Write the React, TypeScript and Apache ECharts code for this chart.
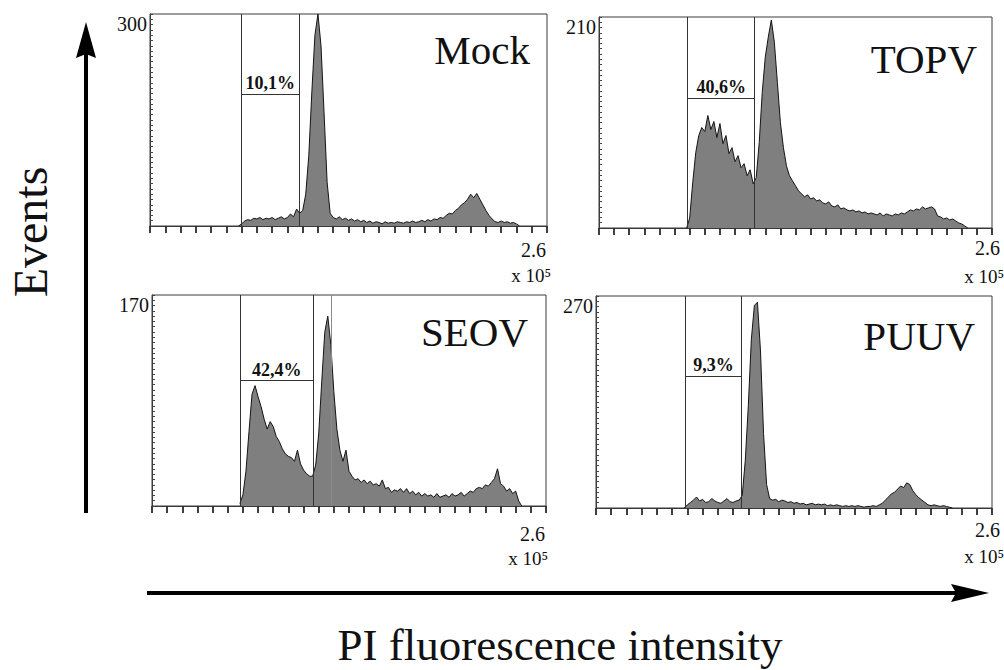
import React, { useEffect, useRef } from 'react';
import * as echarts from 'echarts';

// ---------- data ----------
const binStart = 0.58;
const binStep = 0.02;

const mockCounts = [0, 3, 7, 9, 8, 11, 10, 12, 9, 11, 10, 12, 9, 11, 13, 10, 12, 17, 13, 24, 18, 22, 45, 100, 190, 270, 300, 255, 160, 62, 18, 12, 10, 13, 9, 11, 8, 10, 7, 9, 6, 8, 5, 7, 4, 6, 5, 3, 6, 4, 5, 4, 6, 5, 4, 6, 5, 7, 5, 6, 8, 6, 9, 7, 10, 9, 12, 11, 15, 18, 17, 22, 25, 30, 33, 38, 45, 40, 46, 38, 30, 22, 15, 10, 6, 5, 7, 5, 6, 4, 5, 3, 0];

const topvCounts = [0, 10, 45, 75, 92, 100, 96, 112, 98, 106, 90, 104, 84, 92, 74, 80, 66, 72, 60, 64, 52, 58, 44, 50, 85, 135, 170, 190, 207, 185, 145, 105, 80, 62, 52, 47, 42, 37, 34, 31, 33, 29, 30, 27, 28, 25, 24, 26, 22, 21, 23, 19, 20, 18, 17, 18, 16, 17, 15, 16, 14, 15, 14, 13, 15, 12, 14, 13, 12, 14, 13, 15, 14, 16, 18, 17, 19, 18, 21, 19, 20, 21, 19, 12, 11, 9, 10, 8, 9, 7, 5, 4, 2, 0];

const seovCounts = [2, 9, 28, 60, 90, 97, 88, 80, 70, 62, 68, 64, 56, 52, 46, 42, 40, 39, 36, 45, 34, 29, 26, 24, 24, 33, 58, 100, 140, 153, 130, 92, 62, 45, 36, 45, 28, 24, 21, 22, 19, 21, 18, 20, 17, 18, 16, 21, 14, 15, 11, 13, 12, 14, 11, 14, 10, 12, 9, 11, 8, 10, 8, 9, 7, 10, 7, 8, 9, 7, 10, 8, 9, 11, 8, 10, 12, 11, 14, 15, 14, 17, 16, 19, 22, 30, 18, 16, 12, 14, 10, 12, 4, 0];

const puuvCounts = [0, 4, 7, 10, 14, 9, 11, 7, 8, 12, 9, 7, 6, 9, 12, 8, 7, 9, 10, 16, 60, 130, 215, 258, 262, 200, 95, 30, 12, 10, 11, 8, 10, 9, 7, 8, 6, 7, 5, 6, 4, 5, 6, 4, 5, 4, 5, 3, 4, 3, 4, 3, 2, 3, 2, 3, 2, 3, 2, 1, 2, 2, 3, 2, 4, 6, 10, 14, 18, 20, 24, 28, 26, 32, 30, 22, 17, 13, 10, 7, 4, 3, 4, 3, 2, 3, 2, 1, 0];

const panelNames = ['Mock', 'TOPV', 'SEOV', 'PUUV'];
const panelCounts = [mockCounts, topvCounts, seovCounts, puuvCounts];
const yMaxValues = [300, 210, 170, 270];
const gatePercent = ['10,1%', '40,6%', '42,4%', '9,3%'];
const gateLeft = [0.596, 0.587, 0.581, 0.589];
const gateRight = [0.98, 1.03, 1.065, 0.954];
const gateLevel = [187, 129, 101, 168];
const seovMarker = 1.18;
const xMax = 2.6;
const xMaxLabel = '2.6';
const xUnitLabel = 'x 10⁵';
const yAxisTitle = 'Events';
const xAxisTitle = 'PI fluorescence intensity';

// ---------- layout ----------
const FONT = 'Liberation Serif';
const boxes = [
  { left: 150, top: 14, width: 397, height: 212 },
  { left: 599, top: 17, width: 393, height: 211 },
  { left: 152, top: 295, width: 394, height: 211 },
  { left: 596, top: 296, width: 396, height: 212 },
];
const titlePos = [
  { x: 530, y: 50 },
  { x: 977, y: 59 },
  { x: 528, y: 332 },
  { x: 975, y: 336 },
];
const unitPos = [
  { x1: 546, y1: 250, x2: 551, y2: 275 },
  { x1: 1000, y1: 248, x2: 1004, y2: 276 },
  { x1: 545, y1: 534, x2: 548, y2: 558 },
  { x1: 1000, y1: 530, x2: 1004, y2: 556 },
];

function buildOption() {
  const grid: any[] = [];
  const xAxis: any[] = [];
  const yAxis: any[] = [];
  const series: any[] = [];
  const graphic: any[] = [];

  panelNames.forEach((name, i) => {
    const b = boxes[i];
    const yMax = yMaxValues[i];
    grid.push({
      left: b.left,
      top: b.top,
      width: b.width,
      height: b.height,
      show: true,
      borderColor: '#3a3a3a',
      borderWidth: 1,
      backgroundColor: 'transparent',
    });
    xAxis.push({
      type: 'value',
      gridIndex: i,
      min: 0,
      max: xMax,
      interval: 0.1,
      axisLine: { show: true, lineStyle: { color: '#3a3a3a', width: 1 } },
      axisTick: { show: true, inside: false, length: 7, lineStyle: { color: '#2a2a2a', width: 1.8 } },
      axisLabel: { show: false },
      splitLine: { show: false },
    });
    yAxis.push({
      type: 'value',
      gridIndex: i,
      min: 0,
      max: yMax,
      interval: yMax / 40,
      axisLine: { show: true, lineStyle: { color: '#3a3a3a', width: 1 } },
      axisTick: { show: true, inside: true, length: 3, lineStyle: { color: '#444', width: 1 } },
      axisLabel: {
        show: true,
        formatter: (v: number) => (Math.abs(v - yMax) < 1e-6 ? String(yMax) : ''),
        fontSize: 20,
        fontFamily: FONT,
        color: '#111',
        margin: 3,
        verticalAlign: 'top',
      },
      splitLine: { show: false },
    });

    const markData: any[] = [
      [{ coord: [gateLeft[i], 0] }, { coord: [gateLeft[i], yMax] }],
      [{ coord: [gateRight[i], 0] }, { coord: [gateRight[i], yMax] }],
      [
        {
          coord: [gateLeft[i], gateLevel[i]],
          label: {
            show: true,
            position: 'insideMiddleTop',
            formatter: gatePercent[i],
            fontFamily: FONT,
            fontWeight: 'bold',
            fontSize: 18,
            color: '#111',
            distance: 2,
          },
        },
        { coord: [gateRight[i], gateLevel[i]] },
      ],
    ];
    if (name === 'SEOV') {
      markData.push([
        { coord: [seovMarker, 0], lineStyle: { color: '#8a8a8a', width: 1 } },
        { coord: [seovMarker, yMax] },
      ]);
    }

    series.push({
      type: 'line',
      name,
      xAxisIndex: i,
      yAxisIndex: i,
      data: panelCounts[i].map((c, j) => [binStart + j * binStep, c]),
      showSymbol: false,
      symbol: 'none',
      smooth: false,
      lineStyle: { color: '#141414', width: 1 },
      areaStyle: { color: '#7f7f7f', opacity: 1 },
      z: 2,
      markLine: {
        silent: true,
        symbol: 'none',
        label: { show: false },
        lineStyle: { color: '#333', width: 1, type: 'solid' },
        data: markData,
      },
    });

    const t = titlePos[i];
    graphic.push({
      type: 'text',
      x: t.x,
      y: t.y,
      style: {
        text: name,
        fontFamily: FONT,
        fontSize: 41,
        fill: '#111',
        align: 'right',
        verticalAlign: 'middle',
      },
    });
    const u = unitPos[i];
    graphic.push({
      type: 'text',
      x: u.x1,
      y: u.y1,
      style: { text: xMaxLabel, fontFamily: FONT, fontSize: 20, fill: '#111', align: 'right', verticalAlign: 'middle' },
    });
    graphic.push({
      type: 'text',
      x: u.x2,
      y: u.y2,
      style: { text: xUnitLabel, fontFamily: FONT, fontSize: 19, fill: '#111', align: 'right', verticalAlign: 'middle' },
    });
  });

  // axis titles and arrows
  graphic.push({
    type: 'text',
    x: 30,
    y: 232,
    rotation: Math.PI / 2,
    style: { text: yAxisTitle, fontFamily: FONT, fontSize: 48, fill: '#111', align: 'center', verticalAlign: 'middle' },
  });
  graphic.push({
    type: 'text',
    x: 560,
    y: 645,
    style: { text: xAxisTitle, fontFamily: FONT, fontSize: 45, fill: '#111', align: 'center', verticalAlign: 'middle' },
  });
  graphic.push({
    type: 'line',
    shape: { x1: 86, y1: 513, x2: 86, y2: 50 },
    style: { stroke: '#000', lineWidth: 4 },
  });
  graphic.push({
    type: 'polygon',
    shape: { points: [[76, 58], [86, 22], [96, 58], [86, 54]] },
    style: { fill: '#000' },
  });
  graphic.push({
    type: 'line',
    shape: { x1: 147, y1: 593, x2: 960, y2: 593 },
    style: { stroke: '#000', lineWidth: 4 },
  });
  graphic.push({
    type: 'polygon',
    shape: { points: [[951, 584], [989, 593], [951, 602], [956, 593]] },
    style: { fill: '#000' },
  });

  return {
    animation: false,
    backgroundColor: '#ffffff',
    grid,
    xAxis,
    yAxis,
    series,
    graphic,
  };
}

export default function App() {
  const ref = useRef<HTMLDivElement>(null);
  useEffect(() => {
    if (!ref.current) return;
    const chart = echarts.init(ref.current, null, { renderer: 'svg' });
    chart.setOption(buildOption() as any);
    return () => chart.dispose();
  }, []);
  return (
    <div
      ref={ref}
      style={{ position: 'absolute', left: 0, top: 0, width: 1004, height: 670, background: '#fff' }}
    />
  );
}
